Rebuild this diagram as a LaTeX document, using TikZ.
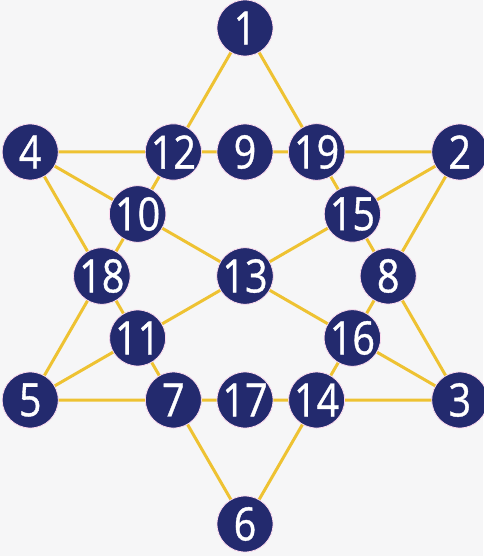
\documentclass[tikz,border=0pt]{standalone}
\usepackage{fontspec}
\setmainfont{Open Sans}[FakeStretch=0.86,FakeBold=0.8]
\definecolor{navy}{HTML}{232A6E}
\definecolor{gold}{HTML}{EEC232}
\definecolor{paper}{HTML}{F6F6F7}
\begin{document}
\begin{tikzpicture}[x=1pt,y=1pt,
  num/.style={circle, fill=navy, draw=white!85!magenta, line width=0.8pt,
    minimum size=56pt, inner sep=0pt, text=white,
    font=\fontsize{46}{46}\selectfont},
  link/.style={draw=gold, line width=3pt}]
\fill[paper] (0,0) rectangle (483,-556);
\useasboundingbox (0,0) rectangle (483,-556);
\begin{scope}[shift={(245,-276)}]
  \def\R{248}
  \def\A{143.2}
  \def\B{124}
  \node[num] (n1)  at (90:\R)  {1};
  \node[num] (n2)  at (30:\R)  {2};
  \node[num] (n3)  at (-30:\R) {3};
  \node[num] (n6)  at (-90:\R) {6};
  \node[num] (n5)  at (210:\R) {5};
  \node[num] (n4)  at (150:\R) {4};
  \node[num] (n12) at (120:\A) {12};
  \node[num] (n19) at (60:\A)  {19};
  \node[num] (n9)  at (90:\B)  {9};
  \node[num] (n15) at (30:\B)  {15};
  \node[num] (n8)  at (0:\A)   {8};
  \node[num] (n16) at (-30:\B) {16};
  \node[num] (n14) at (-60:\A) {14};
  \node[num] (n17) at (-90:\B) {17};
  \node[num] (n7)  at (240:\A) {7};
  \node[num] (n11) at (210:\B) {11};
  \node[num] (n18) at (180:\A) {18};
  \node[num] (n10) at (150:\B) {10};
  \node[num] (n13) at (0,0)    {13};
\end{scope}
\path[link] (n4) -- (n12) -- (n9) -- (n19) -- (n2);
\path[link] (n5) -- (n7) -- (n17) -- (n14) -- (n3);
\path[link] (n1) -- (n12) -- (n10) -- (n18) -- (n5);
\path[link] (n1) -- (n19) -- (n15) -- (n8) -- (n3);
\path[link] (n4) -- (n18) -- (n11) -- (n7) -- (n6);
\path[link] (n2) -- (n8) -- (n16) -- (n14) -- (n6);
\path[link] (n4) -- (n10) -- (n13) -- (n16) -- (n3);
\path[link] (n5) -- (n11) -- (n13) -- (n15) -- (n2);
\end{tikzpicture}
\end{document}
